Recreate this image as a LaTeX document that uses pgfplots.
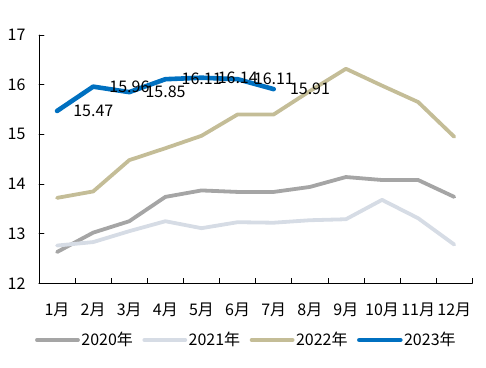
\documentclass[border=0pt]{standalone}
\usepackage{fontspec}
\setmainfont{Noto Sans CJK SC}
\usepackage{pgfplots}
\pgfplotsset{compat=1.18}
\definecolor{c2020}{HTML}{A5A5A5}
\definecolor{c2021}{HTML}{D6DCE5}
\definecolor{c2022}{HTML}{C4BD97}
\definecolor{c2023}{HTML}{0070C0}
\begin{document}
\fontsize{16bp}{19bp}\selectfont
\begin{tikzpicture}
\useasboundingbox (-39bp,-84.7bp) rectangle (447bp,283.3bp);
\begin{axis}[
  /pgf/number format/assume math mode=true,
  scale only axis, width=433.3bp, height=248.3bp,
  xmin=0.5, xmax=12.5, ymin=12, ymax=17,
  axis lines*=left,
  axis line style={black, line width=0.8pt},
  xtick={1,...,12},
  xticklabels={1月,2月,3月,4月,5月,6月,7月,8月,9月,10月,11月,12月},
  minor xtick={1.5,2.5,...,12.5},
  ytick={12,...,17},
  tick align=inside,
  major tick length=5bp, minor tick length=5bp,
  x tick style={draw=none},
  minor x tick style={draw=black, line width=0.6pt},
  y tick style={black, line width=0.6pt},
  xticklabel style={yshift=-14bp},
  yticklabel style={xshift=-8bp},
  tick label style={font=\fontsize{16bp}{19bp}\selectfont},
  legend columns=4,
  legend style={at={(0.478,-0.2284)}, anchor=center, draw=none, fill=none,
    font=\fontsize{16bp}{19bp}\selectfont,
    /tikz/every even column/.append style={column sep=8bp},
    inner sep=0pt, nodes={inner sep=1.5pt}},
  legend image code/.code={\draw[#1, line cap=round] (0bp,0bp) -- (41bp,0bp);},
  line join=round, line cap=round,
]
\addplot[c2020, line width=3.8bp] coordinates {(1,12.63) (2,13.02) (3,13.25) (4,13.74) (5,13.87) (6,13.84) (7,13.84) (8,13.94) (9,14.14) (10,14.08) (11,14.08) (12,13.74)};
\addlegendentry{2020年}
\addplot[c2021, line width=3.8bp] coordinates {(1,12.76) (2,12.83) (3,13.05) (4,13.25) (5,13.11) (6,13.23) (7,13.22) (8,13.27) (9,13.29) (10,13.68) (11,13.31) (12,12.78)};
\addlegendentry{2021年}
\addplot[c2022, line width=3.8bp] coordinates {(1,13.72) (2,13.85) (3,14.48) (4,14.72) (5,14.97) (6,15.40) (7,15.40) (8,15.87) (9,16.32) (10,15.98) (11,15.65) (12,14.95)};
\addlegendentry{2022年}
\addplot[c2023, line width=4.6bp,
  nodes near coords,
  nodes near coords style={anchor=west, xshift=14bp, text=black, inner sep=0pt,
    font=\fontsize{16bp}{19bp}\selectfont,
    /pgf/number format/.cd, fixed, precision=2, fixed zerofill, assume math mode=true},
] coordinates {(1,15.47) (2,15.96) (3,15.85) (4,16.11) (5,16.14) (6,16.11) (7,15.91)};
\addlegendentry{2023年}
\end{axis}
\end{tikzpicture}
\end{document}
